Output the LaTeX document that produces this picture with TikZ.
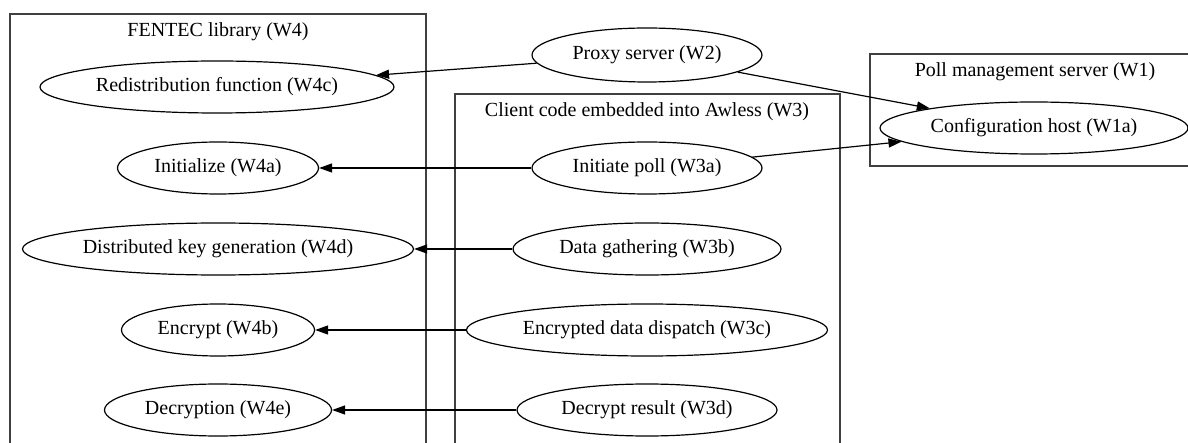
\documentclass[tikz,border=0pt]{standalone}
\usepackage{fontspec}
\setmainfont{Liberation Serif}
\usetikzlibrary{shapes.geometric,arrows.meta}
\begin{document}
\begin{tikzpicture}[x=1pt,y=-1pt,
  every node/.style={font=\fontsize{20}{24}\selectfont},
  proc/.style={draw,ellipse,line width=1.2pt,inner sep=0pt,minimum height=52pt},
  clusterbox/.style={draw=black!75,line width=1.4pt},
  clabel/.style={inner sep=0pt},
  edge/.style={line width=1.2pt,-{Triangle[length=13pt,width=9pt]}}]
\useasboundingbox (0,0) rectangle (1188,443);
\clip (0,0) rectangle (1188,443);
% clusters
\draw[clusterbox] (10,460) -- (10,14) -- (426,14) -- (426,460);
\node[clabel] (lw4) at (218,32) {FENTEC library (W4)};
\draw[clusterbox] (455,460) -- (455,94) -- (840,94) -- (840,460);
\node[clabel] (lw3) at (647,112) {Client code embedded into Awless (W3)};
\draw[clusterbox] (1200,166) -- (870,166) -- (870,54) -- (1200,54);
\node[clabel] (lw1) at (1035,72) {Poll management server (W1)};
% nodes
\node[proc,minimum width=354pt] (w4c) at (217,87) {Redistribution function (W4c)};
\node[proc,minimum width=201pt] (w4a) at (218,168) {Initialize (W4a)};
\node[proc,minimum width=391pt] (w4d) at (218,249) {Distributed key generation (W4d)};
\node[proc,minimum width=193pt] (w4b) at (218,330) {Encrypt (W4b)};
\node[proc,minimum width=227pt] (w4e) at (218,410) {Decryption (W4e)};
\node[proc,minimum width=230pt,minimum height=54pt] (w2) at (647,55) {Proxy server (W2)};
\node[proc,minimum width=230pt] (w3a) at (647,168) {Initiate poll (W3a)};
\node[proc,minimum width=268pt] (w3b) at (647,249) {Data gathering (W3b)};
\node[proc,minimum width=361pt] (w3c) at (647,330) {Encrypted data dispatch (W3c)};
\node[proc,minimum width=260pt] (w3d) at (647,410) {Decrypt result (W3d)};
\node[proc,minimum width=308pt] (w1a) at (1034,128) {Configuration host (W1a)};
% edges
\draw[edge] (w2) -- (w4c);
\draw[edge] (w2) -- (w1a);
\draw[edge] (w3a) -- (w4a);
\draw[edge] (w3a) -- (w1a);
\draw[edge] (w3b) -- (w4d);
\draw[edge] (w3c) -- (w4b);
\draw[edge] (w3d) -- (w4e);
\end{tikzpicture}
\end{document}
